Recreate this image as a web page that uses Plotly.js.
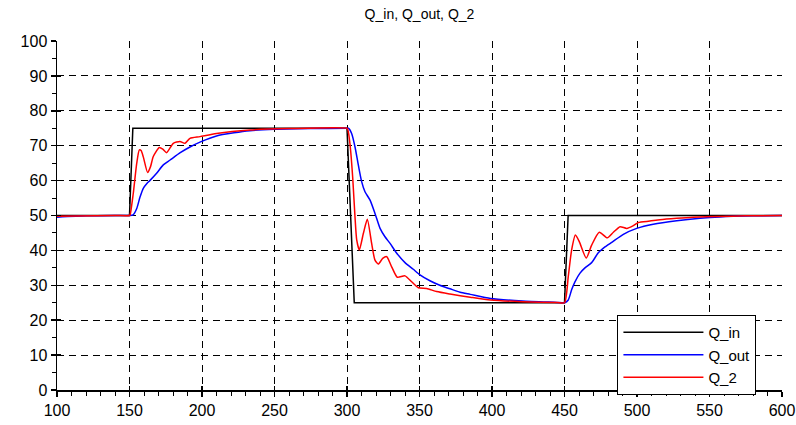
<!DOCTYPE html>
<html>
<head>
<meta charset="utf-8">
<script src="https://cdn.plot.ly/plotly-3.0.1.min.js"></script>
<style>html,body{margin:0;padding:0;background:#fff;}#chart{width:796px;height:425px;}</style>
</head>
<body>
<div id="chart"></div>
<script>
const titleText = "Q_in, Q_out, Q_2";
const seriesNames = ["Q_in", "Q_out", "Q_2"];

const qinX = [100, 150, 152.3, 300, 305, 450, 452.5, 600];
const qinY = [50, 50, 75, 75, 25, 25, 50, 50];

const qoutX = [100, 120, 140, 150, 152.5, 155, 157.2, 159.5, 162, 164, 168.7, 173.3, 178, 185, 192, 199, 210, 222, 233, 250, 275, 300,
  301, 303.2, 305.5, 307.8, 310.1, 312.4, 315.9, 319.3, 322.8, 326.2, 329.7, 334.3, 340, 345.7, 350.3, 357.2, 364, 371, 378, 385, 399, 421, 445, 450,
  452.6, 454.9, 457.2, 460.7, 464.1, 468.7, 473.3, 477.9, 482.6, 490.6, 499.8, 511.2, 527.4, 543.4, 557, 580, 600];
const qoutY = [49.5, 49.9, 50, 50, 50.2, 52, 55.2, 57.8, 59.2, 60, 62.1, 64.5, 65.9, 68, 69.7, 71.1, 72.8, 73.7, 74.3, 74.7, 74.9, 75,
  75, 73.5, 69.7, 64.5, 59.7, 56.8, 54.4, 50.6, 46.3, 43.9, 42.0, 39.2, 36.5, 34.6, 33, 31.3, 30.0, 29.0, 28.0, 27.4, 26.2, 25.5, 25.1, 25,
  25.8, 28.7, 31.0, 33.5, 35.0, 36.5, 39.3, 41.0, 42.3, 44.6, 46.3, 47.5, 48.5, 49.2, 49.6, 49.9, 50];

const q2X = [100, 140, 150, 150.5, 152.6, 155, 156.8, 158, 159.5, 162.5, 164.5, 166.4, 170.6, 173, 175.6, 180.2, 184.8, 188.3, 191.7, 198.6, 210, 233, 260, 300,
  300.5, 302, 303.9, 305.5, 306.7, 308.5, 311.3, 314, 317, 319.3, 321.6, 324.6, 327.4, 330.8, 334.7, 340, 344.6, 349.2, 354.9, 361.8, 371, 385, 399, 421, 445, 450,
  452.6, 454.9, 457.5, 460.2, 465, 468.7, 474, 479.5, 483.7, 488.3, 492.9, 497.5, 500.9, 508.9, 515.9, 527.4, 538.8, 555, 575, 600];
const q2Y = [49.8, 50, 50, 50.3, 56.3, 65, 68.8, 68.6, 66.8, 62.3, 64, 66.9, 69.5, 69, 68, 70.7, 71.2, 70.7, 72.1, 72.6, 73.5, 74.5, 74.9, 75,
  74.7, 70.7, 61.1, 49.7, 43, 40.1, 44.9, 48.9, 42, 37.2, 36.1, 37.7, 38.2, 35.3, 32.3, 32.7, 31.0, 29.3, 29.1, 28.2, 27.5, 26.6, 25.8, 25.3, 25.05, 25,
  32.5, 40.1, 44.4, 42.5, 37.8, 41.5, 45.2, 43.6, 45.2, 46.8, 46.3, 47.1, 48.0, 48.4, 48.8, 49.2, 49.5, 49.7, 49.9, 50];

const xRange = [100, 600];
const yRange = [0, 100];

const font = "Liberation Sans, Arial, sans-serif";

const traces = [
  {x: qinX, y: qinY, name: seriesNames[0], mode: "lines", line: {color: "#000000", width: 1.5}},
  {x: qoutX, y: qoutY, name: seriesNames[1], mode: "lines", line: {color: "#0000ff", width: 1.5, shape: "spline", smoothing: 0.6}},
  {x: q2X, y: q2Y, name: seriesNames[2], mode: "lines", line: {color: "#ff0000", width: 1.5, shape: "spline", smoothing: 0.6}},
  {x: [], y: [], xaxis: "x2", yaxis: "y2", showlegend: false, hoverinfo: "skip"}
];

const grid = {showgrid: true, gridcolor: "#000000", gridwidth: 1, griddash: "7px,5px"};

const layout = {
  width: 796, height: 425,
  margin: {l: 57, r: 14, t: 41, b: 35},
  paper_bgcolor: "#ffffff", plot_bgcolor: "#ffffff",
  font: {family: font, size: 16, color: "#000000"},
  title: {text: titleText, x: 0.527, xanchor: "center", y: 0.978, yanchor: "top", font: {family: font, size: 14, color: "#000"}},
  showlegend: true,
  legend: {x: 0.773, xanchor: "left", y: 0.215, yanchor: "top", bgcolor: "#ffffff", bordercolor: "#000000", borderwidth: 1,
    font: {family: font, size: 15, color: "#000"}, itemwidth: 80, tracegroupgap: 0},
  xaxis: Object.assign({range: xRange, dtick: 50, tick0: 0, ticks: "outside", ticklen: 5, tickwidth: 1.5, tickcolor: "#000",
    showline: true, linecolor: "#000", linewidth: 1.5, zeroline: false, tickfont: {size: 16},
    minor: {dtick: 10, ticks: "outside", ticklen: 4, tickwidth: 1, tickcolor: "#000", showgrid: false}}, grid),
  yaxis: Object.assign({range: yRange, dtick: 10, tick0: 0, ticks: "outside", ticklen: 5, tickwidth: 1.5, tickcolor: "#000",
    showline: true, linecolor: "#000", linewidth: 1.5, zeroline: false, tickfont: {size: 16},
    minor: {dtick: 5, ticks: "outside", ticklen: 4, tickwidth: 1, tickcolor: "#000", showgrid: false}}, grid),
  xaxis2: {overlaying: "x", anchor: "y", range: xRange, dtick: 50, tick0: 0, ticks: "inside", ticklen: 4, tickwidth: 1.5, tickcolor: "#000",
    showticklabels: false, showgrid: false, showline: false, zeroline: false},
  yaxis2: {overlaying: "y", anchor: "x", range: yRange, dtick: 10, tick0: 0, ticks: "inside", ticklen: 4, tickwidth: 1.5, tickcolor: "#000",
    showticklabels: false, showgrid: false, showline: false, zeroline: false}
};

Plotly.newPlot("chart", traces, layout, {staticPlot: true, displayModeBar: false});
</script>
</body>
</html>
